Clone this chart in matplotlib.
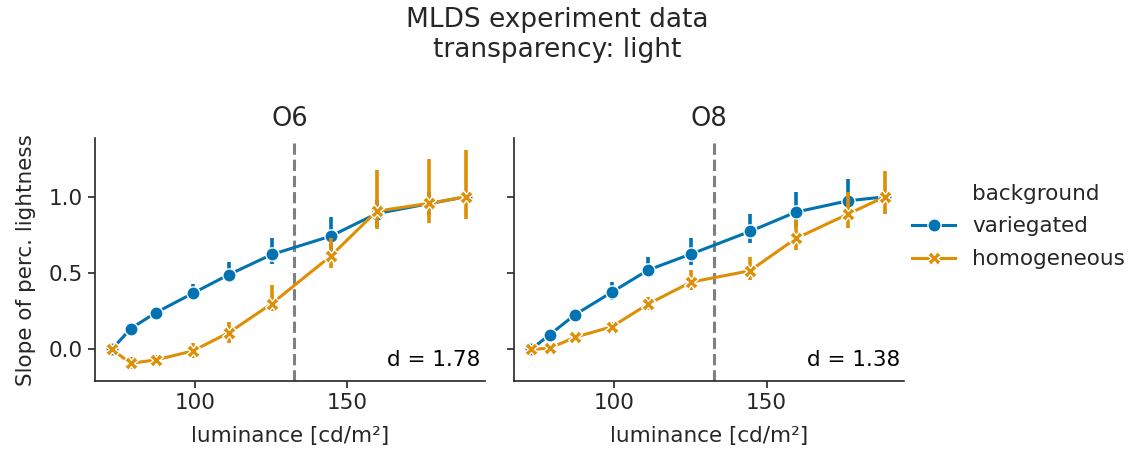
import matplotlib
matplotlib.use("Agg")
import matplotlib.pyplot as plt
from matplotlib.lines import Line2D

# luminance levels of the test patches
luminance = [72.7, 78.8, 87.1, 99.2, 111.1, 125.2, 144.5, 159.6, 176.7, 188.8]
threshold = 132.6

observers = ["O6", "O8"]
d_values = [1.78, 1.38]

# mean slopes and CI bounds, per observer
o6_var = [0.0, 0.135, 0.24, 0.367, 0.49, 0.622, 0.742, 0.89, 0.955, 1.0]
o6_var_lo = [0.0, 0.115, 0.22, 0.32, 0.443, 0.56, 0.62, 0.80, 0.88, 1.0]
o6_var_hi = [0.0, 0.155, 0.27, 0.43, 0.574, 0.727, 0.865, 0.98, 1.03, 1.0]
o6_hom = [0.0, -0.092, -0.07, -0.011, 0.109, 0.30, 0.611, 0.906, 0.957, 1.0]
o6_hom_lo = [0.0, -0.13, -0.10, -0.06, 0.04, 0.25, 0.53, 0.787, 0.826, 0.852]
o6_hom_hi = [0.0, -0.05, -0.04, 0.04, 0.18, 0.42, 0.73, 1.175, 1.247, 1.306]

o8_var = [0.0, 0.096, 0.227, 0.375, 0.52, 0.625, 0.773, 0.9, 0.974, 1.0]
o8_var_lo = [0.0, 0.07, 0.20, 0.323, 0.476, 0.552, 0.694, 0.803, 0.89, 1.0]
o8_var_hi = [0.0, 0.12, 0.26, 0.443, 0.607, 0.727, 0.89, 1.033, 1.12, 1.0]
o8_hom = [0.0, 0.007, 0.079, 0.148, 0.297, 0.441, 0.515, 0.727, 0.887, 1.0]
o8_hom_lo = [0.0, -0.01, 0.06, 0.12, 0.26, 0.39, 0.454, 0.65, 0.793, 0.89]
o8_hom_hi = [0.0, 0.03, 0.10, 0.18, 0.34, 0.52, 0.607, 0.847, 1.033, 1.17]

panels = [
    [(o6_var, o6_var_lo, o6_var_hi), (o6_hom, o6_hom_lo, o6_hom_hi)],
    [(o8_var, o8_var_lo, o8_var_hi), (o8_hom, o8_hom_lo, o8_hom_hi)],
]

backgrounds = ["variegated", "homogeneous"]
colors = ["#0173b2", "#de8f05"]
markers = ["o", "X"]

plt.rcParams["font.family"] = ["DejaVu Sans"]
text_color = "#262626"
fs = 15.5

fig = plt.figure(figsize=(11.3, 4.53), dpi=100)
axes = [fig.add_axes([0.084, 0.159, 0.345, 0.536]),
        fig.add_axes([0.455, 0.159, 0.345, 0.536])]

for i, ax in enumerate(axes):
    for j, (mean, lo, hi) in enumerate(panels[i]):
        yerr = [[m - l for m, l in zip(mean, lo)], [h - m for m, h in zip(mean, hi)]]
        ax.errorbar(luminance, mean, yerr=yerr, fmt="none", ecolor=colors[j],
                    elinewidth=2.6, capsize=0, zorder=2 + j)
        ax.plot(luminance, mean, color=colors[j], lw=2.2, marker=markers[j],
                ms=9.5, mec="white", mew=1.0, zorder=2 + j)
    ax.axvline(threshold, color="gray", ls="--", lw=2.2, zorder=1)
    ax.text(0.99, 0.045, f"d = {d_values[i]:.2f}", transform=ax.transAxes,
            ha="right", va="bottom", fontsize=fs, color="black")
    ax.set_title(observers[i], fontsize=18.5, color=text_color, pad=9)
    ax.set_xlim(67.1, 195.1)
    ax.set_ylim(-0.208, 1.385)
    ax.set_xticks([100, 150])
    ax.set_yticks([0.0, 0.5, 1.0])
    ax.set_xlabel("luminance [cd/m²]", fontsize=fs, color=text_color, labelpad=9)
    for side in ["top", "right"]:
        ax.spines[side].set_visible(False)
    for side in ["left", "bottom"]:
        ax.spines[side].set_linewidth(1.2)
        ax.spines[side].set_color(text_color)
    ax.tick_params(labelsize=fs, length=5, width=1.2, pad=4, colors=text_color)

axes[0].set_ylabel("Slope of perc. lightness", fontsize=fs, color=text_color, labelpad=9)
axes[1].tick_params(axis="y", labelleft=False)

# legend: variable name as a header row with an empty handle
header = Line2D([], [], color="none")
handles = [header] + [Line2D([], [], color=c, marker=m, lw=2.2, ms=9.5, mec="white", mew=1.0)
                      for c, m in zip(colors, markers)]
leg = fig.legend(handles, ["background"] + backgrounds, loc="center left",
                 bbox_to_anchor=(0.79, 0.50), frameon=False, fontsize=fs,
                 handlelength=2.0, labelspacing=0.6)
for t in leg.get_texts():
    t.set_color(text_color)

fig.suptitle("MLDS experiment data\ntransparency: light", x=0.493, y=0.985,
             fontsize=19, color=text_color, linespacing=1.2)

fig.savefig("out.png", dpi=100)
